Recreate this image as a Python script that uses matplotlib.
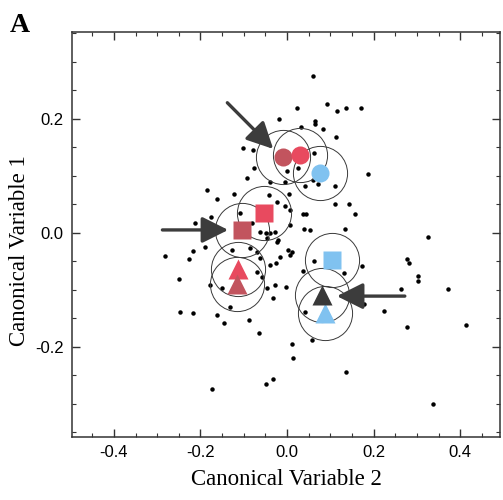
import numpy as np
import matplotlib.pyplot as plt
from matplotlib.ticker import MultipleLocator

# individual scores on the first two canonical variables
cv2_pts = [0.060, 0.092, 0.023, 0.115, 0.136, 0.171, -0.018, 0.065, 0.065, -0.058,
           0.032, 0.083, 0.113, -0.102, -0.078, 0.062, 0.187, -0.076, -0.092, 0.025,
           0.000, -0.005, 0.042, 0.072, 0.111, -0.185, -0.161, -0.122, -0.042, 0.005,
           -0.023, 0.111, 0.143, 0.157, -0.212, -0.175, 0.037, 0.044, -0.005, 0.007,
           -0.108, -0.081, -0.062, -0.048, -0.039, -0.046, -0.028, -0.021, 0.007, 0.039,
           0.053, 0.134, 0.325, -0.281, -0.217, -0.226, -0.189, -0.127, -0.085, -0.069,
           -0.023, 0.002, 0.012, 0.007, -0.016, -0.062, -0.039, -0.025, -0.069, -0.058,
           0.062, 0.173, 0.277, 0.281, 0.302, 0.302, 0.371, 0.263, 0.178, 0.224,
           -0.249, -0.178, -0.150, -0.046, -0.028, -0.002, -0.032, -0.131, -0.247, -0.217,
           -0.161, -0.145, -0.088, 0.042, 0.131, 0.037, 0.277, 0.413, -0.065, 0.012,
           0.058, 0.014, -0.032, -0.048, -0.173, 0.136, 0.337, -0.039, 0.060]
cv1_pts = [0.275, 0.226, 0.218, 0.214, 0.218, 0.219, 0.200, 0.196, 0.191, 0.188,
           0.186, 0.182, 0.168, 0.149, 0.146, 0.140, 0.103, 0.114, 0.096, 0.114,
           0.109, 0.089, 0.082, 0.086, 0.082, 0.075, 0.060, 0.068, 0.067, 0.068,
           0.054, 0.051, 0.051, 0.033, 0.018, 0.028, 0.033, 0.033, 0.047, 0.040,
           0.035, 0.018, 0.002, 0.000, 0.000, -0.009, 0.002, -0.012, 0.014, 0.007,
           0.005, 0.007, -0.007, -0.040, -0.032, -0.046, -0.025, -0.030, -0.026, -0.033,
           -0.016, -0.030, -0.033, -0.039, -0.042, -0.044, -0.056, -0.053, -0.068, -0.077,
           -0.049, -0.058, -0.046, -0.053, -0.075, -0.084, -0.098, -0.098, -0.125, -0.137,
           -0.081, -0.091, -0.096, -0.096, -0.091, -0.095, -0.114, -0.130, -0.139, -0.140,
           -0.144, -0.158, -0.153, -0.139, -0.070, -0.067, -0.165, -0.161, -0.175, -0.195,
           -0.188, -0.219, -0.256, -0.265, -0.274, -0.244, -0.300, 0.089, 0.093]

# group means (circles, squares, triangles)
mean_cv2 = [-0.009, 0.030, 0.076, -0.104, -0.053, 0.104, -0.113, -0.115, 0.088, 0.081]
mean_cv1 = [0.132, 0.137, 0.105, 0.005, 0.035, -0.047, -0.063, -0.089, -0.140, -0.109]
mean_shape = ['o', 'o', 'o', 's', 's', 's', '^', '^', '^', '^']
mean_color = ['#c2545e', '#e84a5f', '#80c2f0', '#c2545e', '#e84a5f', '#80c2f0',
              '#e84a5f', '#c2545e', '#80c2f0', '#383838']

# arrows: (tail, head) in data units
arrows = [((-0.138, 0.228), (-0.032, 0.147)),
          ((-0.288, 0.005), (-0.136, 0.005)),
          ((0.272, -0.111), (0.115, -0.111))]

fig = plt.figure(figsize=(5.03, 5.0), dpi=100)
ax = fig.add_axes([0.143, 0.126, 0.852, 0.810])

ax.plot(cv2_pts, cv1_pts, 'o', color='black', ms=2.2, zorder=2)

for x, y, m, c in zip(mean_cv2, mean_cv1, mean_shape, mean_color):
    ax.plot(x, y, 'o', ms=39, mfc='none', mec='#3a3a3a', mew=0.7, zorder=3)
    ms = {'o': 13, 's': 12.5, '^': 14.5}[m]
    ax.plot(x, y, m, ms=ms, color=c, mec='none', zorder=4)

for tail, head in arrows:
    ax.annotate('', xy=head, xytext=tail,
                arrowprops=dict(arrowstyle='-|>', mutation_scale=40, lw=2.4,
                                color='#3c3c3c', shrinkA=0, shrinkB=0),
                zorder=5)

ax.set_xlim(-0.497, 0.493)
ax.set_ylim(-0.358, 0.352)
ax.xaxis.set_major_locator(MultipleLocator(0.2))
ax.xaxis.set_minor_locator(MultipleLocator(0.05))
ax.yaxis.set_major_locator(MultipleLocator(0.2))
ax.yaxis.set_minor_locator(MultipleLocator(0.05))
ax.xaxis.set_major_formatter(lambda v, p: f'{v:.1f}'.replace('-0.0', '0.0'))
ax.yaxis.set_major_formatter(lambda v, p: f'{v:.1f}'.replace('-0.0', '0.0'))
ax.tick_params(which='both', direction='in', top=True, right=True, color='#333333')
ax.tick_params(which='major', length=6, width=1.0, labelsize=12, pad=6)
ax.tick_params(which='minor', length=3, width=0.8)
for lab in ax.get_xticklabels() + ax.get_yticklabels():
    lab.set_family('Liberation Sans')
for s in ax.spines.values():
    s.set_linewidth(1.1)
    s.set_color('#333333')

ax.set_xlabel('Canonical Variable 2', family='Liberation Serif', fontsize=16.5, labelpad=6)
ax.set_ylabel('Canonical Variable 1', family='Liberation Serif', fontsize=16.5)
ax.yaxis.set_label_coords(-0.097, 0.46)
fig.text(0.02, 0.935, 'A', family='Liberation Serif', weight='bold', fontsize=20)

fig.savefig('out.png', dpi=100)
